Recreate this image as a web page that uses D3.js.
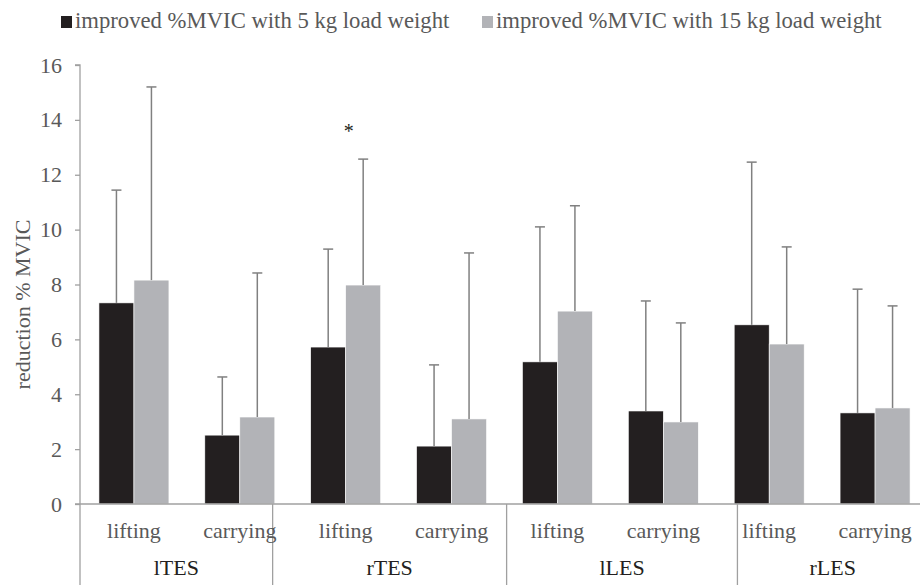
<!DOCTYPE html>
<html>
<head>
<meta charset="utf-8">
<script src="https://cdn.jsdelivr.net/npm/d3@7"></script>
<style>
  html, body { margin: 0; padding: 0; background: #fff; }
  svg { display: block; font-family: "Liberation Serif", "Times New Roman", serif; }
</style>
</head>
<body>
<svg id="chart" width="920" height="585"></svg>
<script>
// ---- data ----
const muscles = ["lTES", "rTES", "lLES", "rLES"];
const tasks = ["lifting", "carrying"];
const seriesNames = ["improved %MVIC with 5 kg load weight", "improved %MVIC with 15 kg load weight"];
// order: lTES lifting, lTES carrying, rTES lifting, rTES carrying, lLES lifting, lLES carrying, rLES lifting, rLES carrying
const mean5kg  = [7.33, 2.51, 5.72, 2.11, 5.18, 3.39, 6.53, 3.32];
const sd5kg    = [4.11, 2.12, 3.57, 2.96, 4.92, 4.01, 5.93, 4.51];
const mean15kg = [8.16, 3.17, 7.98, 3.10, 7.03, 2.99, 5.83, 3.50];
const sd15kg   = [7.04, 5.25, 4.59, 6.05, 3.84, 3.61, 3.54, 3.72];
const yTicks = [0, 2, 4, 6, 8, 10, 12, 14, 16];
const significant = [{ muscle: "rTES", task: "lifting", mark: "*" }];

// ---- layout ----
const svg = d3.select("#chart");
const x0 = 81, x1 = 928, yTop = 65, yBottom = 504;
const dividerSlots = [1.81, 4.02, 6.2];
const colors = ["#231f20", "#b2b3b7"];
const axisColor = "#a0a0a0";
const errColor = "#808080";
const textGrey = "#595959";

const rows = [];
muscles.forEach((m, gi) => tasks.forEach((t, ti) => {
  const i = gi * tasks.length + ti;
  rows.push({ key: m + "|" + t, muscle: m, task: t,
    vals: [{ s: 0, v: mean5kg[i], sd: sd5kg[i] }, { s: 1, v: mean15kg[i], sd: sd15kg[i] }] });
}));

const y = d3.scaleLinear().domain([0, 16]).range([yBottom, yTop]);
const xBand = d3.scaleBand().domain(rows.map(r => r.key)).range([x0, x1])
  .paddingInner(0.339).paddingOuter(0.1695);
const xInner = d3.scaleBand().domain([0, 1]).range([0, xBand.bandwidth()]);
const slot = d3.scaleLinear().domain([0, rows.length]).range([x0, x1]);

// y axis
const yAxis = d3.axisLeft(y).tickValues(yTicks).tickSize(5).tickPadding(13).tickFormat(d3.format("d"));
const gy = svg.append("g").attr("transform", `translate(${x0 - 1},0)`).call(yAxis);
gy.attr("font-family", null);
gy.select(".domain").attr("stroke", axisColor).attr("stroke-width", 1.3).attr("d", `M-5,${yTop}H0V${yBottom}`);
gy.selectAll(".tick line").attr("stroke", axisColor).attr("stroke-width", 1.3);
gy.selectAll(".tick text").attr("fill", textGrey).style("font-size", "22px");

// y title
svg.append("text")
  .attr("transform", `translate(30,${(yTop + yBottom) / 2 + 20}) rotate(-90)`)
  .attr("text-anchor", "middle").attr("fill", textGrey).style("font-size", "22px")
  .text("reduction % MVIC");

// bars
const groups = svg.append("g").selectAll("g").data(rows).join("g")
  .attr("transform", d => `translate(${xBand(d.key)},0)`);
groups.selectAll("rect").data(d => d.vals).join("rect")
  .attr("x", d => xInner(d.s)).attr("width", xInner.bandwidth())
  .attr("y", d => y(d.v)).attr("height", d => y(0) - y(d.v))
  .attr("fill", d => colors[d.s]).attr("stroke", "#fff").attr("stroke-width", 0.6);

// error bars (upper only)
const eb = groups.selectAll("g.err").data(d => d.vals).join("g").attr("class", "err");
eb.append("line")
  .attr("x1", d => xInner(d.s) + xInner.bandwidth() / 2).attr("x2", d => xInner(d.s) + xInner.bandwidth() / 2)
  .attr("y1", d => y(d.v)).attr("y2", d => y(d.v + d.sd))
  .attr("stroke", errColor).attr("stroke-width", 1.5);
eb.append("line")
  .attr("x1", d => xInner(d.s) + xInner.bandwidth() / 2 - 5).attr("x2", d => xInner(d.s) + xInner.bandwidth() / 2 + 5)
  .attr("y1", d => y(d.v + d.sd)).attr("y2", d => y(d.v + d.sd))
  .attr("stroke", errColor).attr("stroke-width", 1.5);

// significance marks
significant.forEach(s => {
  const r = rows.find(r => r.muscle === s.muscle && r.task === s.task);
  const top = d3.max(r.vals, v => v.v + v.sd);
  svg.append("text").attr("x", xBand(r.key) + xBand.bandwidth() / 2 + 3).attr("y", y(top) - 21)
    .attr("text-anchor", "middle").attr("fill", "#231f20").style("font-size", "20px").text(s.mark);
});

// x axis line
svg.append("line").attr("x1", x0 - 6).attr("x2", 920).attr("y1", yBottom).attr("y2", yBottom)
  .attr("stroke", axisColor).attr("stroke-width", 1.3);

// multi-level category dividers
const divXs = [x0 - 1].concat(dividerSlots.map(s => slot(s))).concat([x1]);
svg.append("g").selectAll("line").data(divXs).join("line")
  .attr("x1", d => d).attr("x2", d => d).attr("y1", yBottom).attr("y2", 585)
  .attr("stroke", axisColor).attr("stroke-width", 1.3);

// task labels
svg.append("g").selectAll("text").data(rows).join("text")
  .attr("x", d => xBand(d.key) + xBand.bandwidth() / 2).attr("y", 538)
  .attr("text-anchor", "middle").attr("fill", textGrey).style("font-size", "22px")
  .text(d => d.task);

// muscle labels
svg.append("g").selectAll("text").data(muscles).join("text")
  .attr("x", (d, i) => (divXs[i] + divXs[i + 1]) / 2).attr("y", 575)
  .attr("text-anchor", "middle").attr("fill", "#231f20").style("font-size", "22px")
  .text(d => d);

// legend
const legendX = [61, 482];
const lg = svg.append("g").selectAll("g").data(seriesNames).join("g")
  .attr("transform", (d, i) => `translate(${legendX[i]},16)`);
lg.append("rect").attr("width", 11).attr("height", 12).attr("fill", (d, i) => colors[i]);
lg.append("text").attr("x", 14).attr("y", 12).attr("fill", textGrey).style("font-size", "22.7px").text(d => d);
</script>
</body>
</html>
